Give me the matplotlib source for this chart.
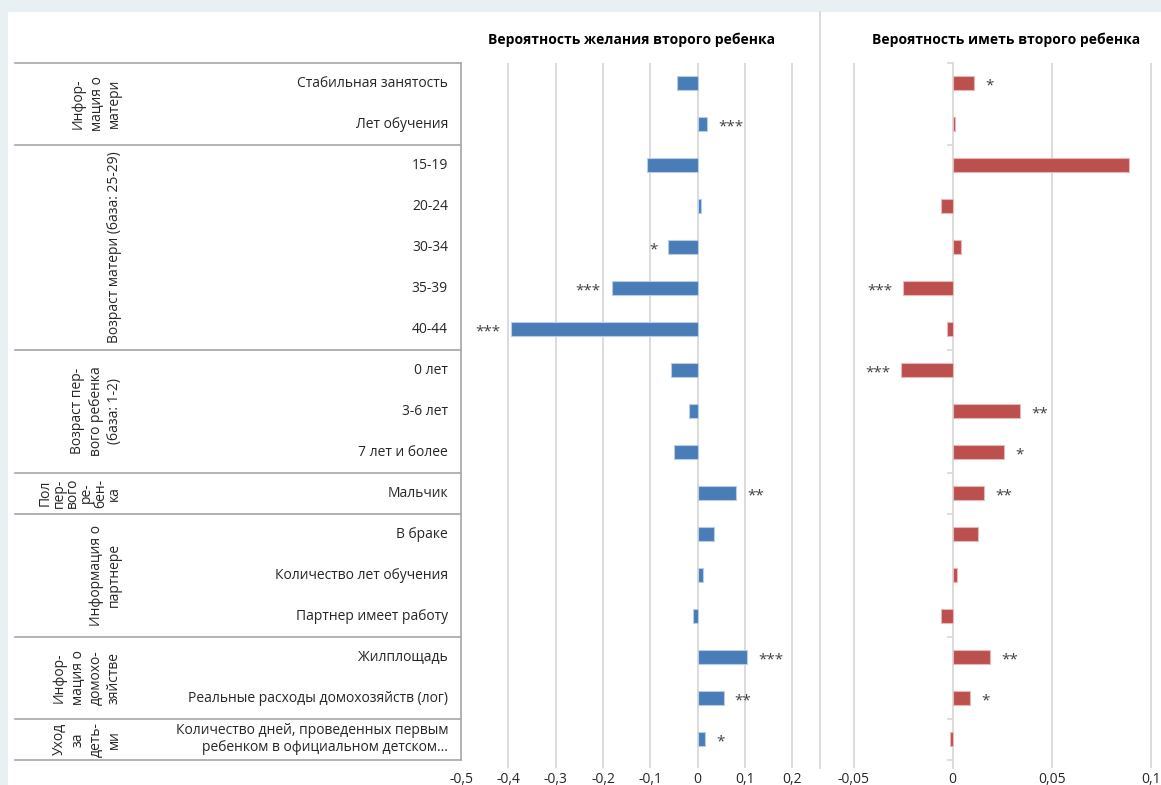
import matplotlib.pyplot as plt
from matplotlib.patches import Rectangle
from matplotlib.transforms import blended_transform_factory

plt.rcParams["font.family"] = ["Open Sans", "DejaVu Sans"]

W, H = 1161, 785

rows = [
    "Стабильная занятость", "Лет обучения",
    "15-19", "20-24", "30-34", "35-39", "40-44",
    "0 лет", "3-6 лет", "7 лет и более",
    "Мальчик",
    "В браке", "Количество лет обучения", "Партнер имеет работу",
    "Жилплощадь", "Реальные расходы домохозяйств (лог)",
    "Количество дней, проведенных первым\nребенком в официальном детском...",
]
groups = [
    "Инфор-\nмация о\nматери",
    "Возраст матери (база: 25-29)",
    "Возраст пер-\nвого ребенка\n(база: 1-2)",
    "Пол\nпер-\nвого\nре-\nбен-\nка",
    "Информация о\nпартнере",
    "Инфор-\nмация о\nдомохо-\nзяйстве",
    "Уход\nза\nдеть-\nми",
]
group_sizes = [2, 5, 3, 1, 3, 2, 1]

want = [-0.043, 0.020, -0.106, 0.006, -0.062, -0.182, -0.394, -0.057, -0.018,
        -0.049, 0.081, 0.034, 0.011, -0.010, 0.104, 0.055, 0.016]
want_sig = ["", "***", "", "", "*", "***", "***", "", "", "", "**", "", "", "",
            "***", "**", "*"]
have = [0.011, 0.001, 0.089, -0.006, 0.004, -0.025, -0.003, -0.026, 0.034,
        0.026, 0.016, 0.013, 0.002, -0.006, 0.019, 0.009, -0.0012]
have_sig = ["*", "", "", "", "", "***", "", "***", "**", "*", "**", "", "", "",
            "**", "*", ""]

want_ticks = [-0.5, -0.4, -0.3, -0.2, -0.1, 0, 0.1, 0.2]
have_ticks = [-0.05, 0, 0.05, 0.1]

BLUE = "#4a7cb8"
RED = "#bb504e"
GRID = "#d9d9d9"
TABLE = "#a6a6a6"
TEXT = "#262626"


def rect(x0, y0, x1, y1):
    return [x0 / W, 1 - y1 / H, (x1 - x0) / W, (y1 - y0) / H]


def fmt(v):
    s = ("%g" % v).replace(".", ",")
    return "0" if s in ("0", "-0") else s


fig = plt.figure(figsize=(W / 100, H / 100), dpi=100)
fig.patch.set_facecolor("#e8f0f3")

bg = fig.add_axes([0, 0, 1, 1], zorder=0)
bg.set_xlim(0, W)
bg.set_ylim(H, 0)
bg.axis("off")
bg.add_patch(Rectangle((8, 12), W, H, facecolor="white", edgecolor="none"))
bg.plot([820, 820], [12, 768], color=GRID, lw=1.3)

n = len(rows)
ylim = (n - 0.5 + 0.2, -0.5)
ax1 = fig.add_axes(rect(461, 62.5, 816, 768), zorder=1)
ax2 = fig.add_axes(rect(820, 62.5, W, 768), zorder=1)

for ax, vals, sig, color, edge in [(ax1, want, want_sig, BLUE, "#b9cde6"),
                                   (ax2, have, have_sig, RED, "#e6b9b8")]:
    ax.patch.set_alpha(0)
    ax.barh(range(n), vals, height=0.35, color=color, edgecolor=edge,
            linewidth=0.8, zorder=3)
    for i, (v, s) in enumerate(zip(vals, sig)):
        if s:
            ax.annotate(s, xy=(v, i), xytext=(11 if v > 0 else -11, -3),
                        textcoords="offset pixels", ha="left" if v > 0 else "right",
                        va="center", fontsize=11, color="#404040", zorder=4)
    ax.set_ylim(*ylim)
    ax.set_yticks([])
    for side in ["top", "right", "bottom"]:
        ax.spines[side].set_visible(False)
    ax.tick_params(axis="x", length=0, pad=3, labelsize=10, labelcolor=TEXT)

ax1.set_xlim(-0.5, 0.25)
ax1.set_xticks(want_ticks)
ax1.set_xticklabels([fmt(t) for t in want_ticks])
for t in want_ticks[1:]:
    ax1.axvline(t, color=GRID, lw=1.3, zorder=1)
ax1.spines["left"].set_color(TABLE)
ax1.spines["left"].set_linewidth(1.2)
ax1.spines["left"].set_bounds(n - 0.5, -0.5)

ax2.set_xlim(-0.067, 0.1052)
ax2.set_xticks(have_ticks)
ax2.set_xticklabels([fmt(t) for t in have_ticks])
for t in [-0.05, 0.05, 0.1]:
    ax2.axvline(t, color=GRID, lw=1.3, zorder=1)
ax2.spines["left"].set_position(("data", 0))
ax2.spines["left"].set_color(GRID)
ax2.spines["left"].set_linewidth(1.3)

# group boundaries
bounds = [-0.5]
for s in group_sizes:
    bounds.append(bounds[-1] + s)
ax2.set_yticks(bounds)
ax2.tick_params(axis="y", length=4, width=1.2, color=GRID, labelleft=False)

tr = blended_transform_factory(bg.transData, ax1.transData)
for b in bounds:
    bg.plot([15, 461], [b, b], transform=tr, color=TABLE, lw=1.2)

for i, label in enumerate(rows):
    bg.text(448, i, label, transform=tr, ha="right", va="center",
            multialignment="right", fontsize=10, color=TEXT, linespacing=1.15)

for g, label in enumerate(groups):
    mid = (bounds[g] + bounds[g + 1]) / 2
    ls = 0.9 if label.startswith("Пол") else 1.3
    bg.text(122, mid, label, transform=tr, rotation=90, ha="right", va="center",
            multialignment="center", fontsize=10, color=TEXT, linespacing=ls)

fig.text(632 / W, 1 - 40 / H, "Вероятность желания второго ребенка",
         ha="center", va="center", fontsize=10, fontweight="bold", color="black")
fig.text(1006 / W, 1 - 40 / H, "Вероятность иметь второго ребенка",
         ha="center", va="center", fontsize=10, fontweight="bold", color="black")

fig.savefig("out.png", dpi=100, facecolor=fig.get_facecolor())
